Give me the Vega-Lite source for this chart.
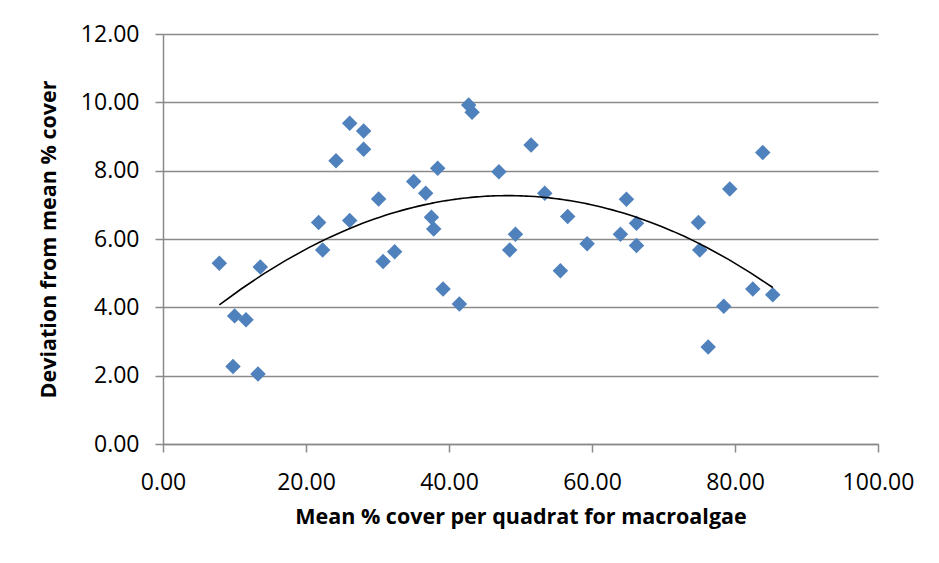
{
  "$schema": "https://vega.github.io/schema/vega-lite/v6.json",
  "autosize": {"type": "none"},
  "padding": {"left": 163, "top": 34, "right": 61, "bottom": 119},
  "width": 715,
  "height": 410,
  "background": "white",
  "config": {
    "view": {"stroke": null},
    "font": "Open Sans",
    "axis": {
      "labelFont": "Open Sans",
      "labelFontSize": 23,
      "labelColor": "#000000",
      "titleFont": "Open Sans",
      "titleFontSize": 21.5,
      "titleFontWeight": "bold",
      "titleColor": "#000000",
      "domainColor": "#8a8a8a",
      "domainWidth": 1.5,
      "tickColor": "#8a8a8a",
      "tickWidth": 1.5,
      "tickSize": 8,
      "gridColor": "#8a8a8a",
      "gridWidth": 1.5,
      "gridOpacity": 1
    }
  },
  "data": {
    "values": [
      {"cover": 7.88, "dev": 5.29},
      {"cover": 10.02, "dev": 3.75},
      {"cover": 11.61, "dev": 3.64},
      {"cover": 9.79, "dev": 2.27},
      {"cover": 13.29, "dev": 2.05},
      {"cover": 13.61, "dev": 5.18},
      {"cover": 21.77, "dev": 6.48},
      {"cover": 22.33, "dev": 5.68},
      {"cover": 24.20, "dev": 8.29},
      {"cover": 26.11, "dev": 9.39},
      {"cover": 26.11, "dev": 6.54},
      {"cover": 28.06, "dev": 9.16},
      {"cover": 28.06, "dev": 8.63},
      {"cover": 30.16, "dev": 7.17},
      {"cover": 30.78, "dev": 5.34},
      {"cover": 32.40, "dev": 5.63},
      {"cover": 35.06, "dev": 7.68},
      {"cover": 36.74, "dev": 7.34},
      {"cover": 37.54, "dev": 6.64},
      {"cover": 37.86, "dev": 6.29},
      {"cover": 38.42, "dev": 8.07},
      {"cover": 39.17, "dev": 4.54},
      {"cover": 41.45, "dev": 4.10},
      {"cover": 42.75, "dev": 9.92},
      {"cover": 43.23, "dev": 9.71},
      {"cover": 46.98, "dev": 7.97},
      {"cover": 48.49, "dev": 5.68},
      {"cover": 49.29, "dev": 6.14},
      {"cover": 51.48, "dev": 8.75},
      {"cover": 53.39, "dev": 7.34},
      {"cover": 55.58, "dev": 5.07},
      {"cover": 56.60, "dev": 6.66},
      {"cover": 59.32, "dev": 5.86},
      {"cover": 63.98, "dev": 6.14},
      {"cover": 64.82, "dev": 7.16},
      {"cover": 66.22, "dev": 6.46},
      {"cover": 66.22, "dev": 5.81},
      {"cover": 74.89, "dev": 6.48},
      {"cover": 75.07, "dev": 5.68},
      {"cover": 79.27, "dev": 7.46},
      {"cover": 83.88, "dev": 8.53},
      {"cover": 82.49, "dev": 4.54},
      {"cover": 85.28, "dev": 4.37},
      {"cover": 78.43, "dev": 4.03},
      {"cover": 76.25, "dev": 2.84}
    ]
  },
  "layer": [
    {
      "mark": {"type": "point", "shape": "diamond", "filled": true, "size": 240, "color": "#4F81BD", "opacity": 1},
      "encoding": {
        "x": {
          "field": "cover", "type": "quantitative",
          "scale": {"domain": [0, 100], "nice": false, "zero": false},
          "axis": {
            "title": "Mean % cover per quadrat for macroalgae",
            "values": [0, 20, 40, 60, 80, 100],
            "format": ".2f",
            "grid": false,
            "labelPadding": 19,
            "titlePadding": 12,
            "labelFlush": false
          }
        },
        "y": {
          "field": "dev", "type": "quantitative",
          "scale": {"domain": [0, 12], "nice": false, "zero": false},
          "axis": {
            "title": "Deviation  from mean % cover",
            "values": [0, 2, 4, 6, 8, 10, 12],
            "format": ".2f",
            "grid": true,
            "labelPadding": 16,
            "titlePadding": 20,
            "labelFlush": false
          }
        }
      }
    },
    {
      "transform": [
        {"regression": "dev", "on": "cover", "method": "poly", "order": 2}
      ],
      "mark": {"type": "line", "color": "#000000", "strokeWidth": 1.6},
      "encoding": {
        "x": {"field": "cover", "type": "quantitative"},
        "y": {"field": "dev", "type": "quantitative"}
      }
    }
  ]
}
